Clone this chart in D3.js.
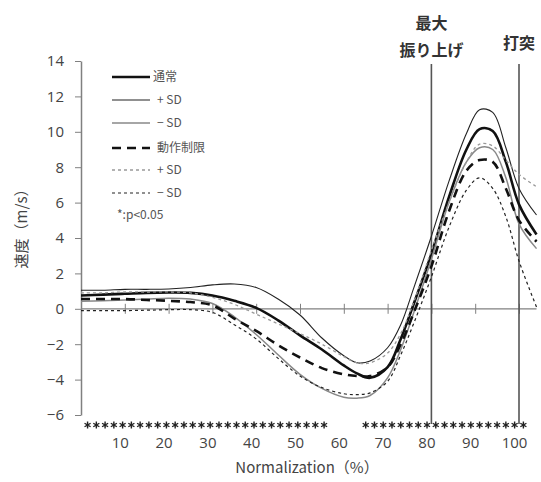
<!DOCTYPE html>
<html>
<head>
<meta charset="utf-8">
<script src="https://cdn.jsdelivr.net/npm/d3@7"></script>
<style>
  html, body { margin: 0; padding: 0; background: #fff; }
  svg { display: block; }
  text { font-family: "Noto Sans CJK JP", "Noto Sans", sans-serif; }
</style>
</head>
<body>
<svg id="chart" width="541" height="482"></svg>
<script>
// Normalised time (%) at which each velocity curve is sampled
const pct = [0, 5, 10, 15, 20, 25, 30, 35, 40, 45, 50, 55, 60, 63, 66, 70, 73, 76, 80, 84, 88, 91, 94, 97, 100, 104];

// 通常 (normal swing): mean and ±SD, m/s
const normalMean  = [0.75, 0.80, 0.85, 0.90, 0.92, 0.90, 0.75, 0.45, 0.05, -0.65, -1.50, -2.30, -3.20, -3.65, -3.90, -3.30, -1.70, 0.30, 3.10, 6.30, 9.00, 10.15, 10.05, 8.30, 5.90, 4.20];
const normalPlus  = [1.05, 1.05, 1.10, 1.10, 1.12, 1.20, 1.35, 1.40, 1.20, 0.55, -0.35, -1.65, -2.65, -3.05, -2.95, -2.20, -0.90, 1.20, 4.10, 7.20, 9.90, 11.25, 11.10, 9.10, 6.80, 5.30];
const normalMinus = [0.42, 0.45, 0.50, 0.55, 0.60, 0.55, 0.30, -0.45, -1.45, -2.60, -3.70, -4.50, -5.00, -5.05, -4.90, -3.90, -2.30, -0.20, 2.80, 6.00, 8.30, 9.10, 9.00, 7.40, 4.80, 3.40];

// 動作制限 (restricted motion): mean and ±SD, m/s
const restrictMean  = [0.55, 0.55, 0.55, 0.50, 0.45, 0.38, 0.20, -0.55, -1.25, -2.05, -2.75, -3.35, -3.70, -3.80, -3.80, -3.30, -2.00, -0.20, 2.40, 5.50, 7.80, 8.40, 8.30, 6.80, 5.00, 3.80];
const restrictPlus  = [0.90, 0.90, 0.95, 0.95, 0.95, 0.90, 0.65, 0.25, -0.30, -0.85, -1.40, -2.00, -2.70, -3.05, -3.05, -2.50, -1.40, 0.40, 3.30, 6.00, 8.30, 9.30, 9.20, 8.40, 7.60, 6.90];
const restrictMinus = [-0.10, -0.10, -0.10, -0.08, -0.05, -0.05, -0.20, -0.90, -1.70, -2.80, -3.80, -4.45, -4.80, -4.85, -4.75, -4.10, -2.60, -0.80, 1.80, 4.60, 6.70, 7.40, 6.80, 5.20, 2.70, 0.10];

// Points where the two conditions differ (p < 0.05)
const sigPoints = [1.5, 3.5, 5.5, 7.5, 9.5, 11.5, 13.5, 15.5, 17.5, 19.5, 21.5, 23.5, 25.5, 27.5,
                   29.5, 31.5, 33.5, 35.5, 37.5, 39.5, 41.5, 43.5, 45.5, 47.5, 49.5, 51.5, 53.5, 55.5,
                   65, 67, 69, 71, 73, 75, 77, 79, 81, 83, 85, 87, 89, 91, 93, 95, 97, 99, 101];

// Event markers
const events = [
  { at: 80,  lines: ["最大", "振り上げ"] },
  { at: 100, lines: ["打突"] }
];

const yTicks = [-6, -4, -2, 0, 2, 4, 6, 8, 10, 12, 14];
const xTicks = [10, 20, 30, 40, 50, 60, 70, 80, 90, 100];
const legendLabels = ["通常", "+ SD", "− SD", "動作制限", "+ SD", "− SD"];
const sigLabel = "*:p<0.05";

const series = [
  { values: normalMean,    stroke: "#111", width: 2.6, dash: null },
  { values: normalPlus,    stroke: "#222", width: 1.1, dash: null },
  { values: normalMinus,   stroke: "#888", width: 1.5, dash: null },
  { values: restrictMean,  stroke: "#111", width: 2.6, dash: "9,6" },
  { values: restrictPlus,  stroke: "#999", width: 1.3, dash: "3,3" },
  { values: restrictMinus, stroke: "#222", width: 1.2, dash: "3,3" }
];

const svg = d3.select("#chart");
const x = d3.scaleLinear().domain([0, 100]).range([81, 519]);
const y = d3.scaleLinear().domain([-6, 14]).range([415, 61]);
const axisColor = "#808080";
const textColor = "#444";

// y axis
const yAxis = svg.append("g")
  .attr("transform", `translate(${x(0)},0)`)
  .call(d3.axisLeft(y).tickValues(yTicks).tickSize(6).tickPadding(11).tickSizeOuter(0));
yAxis.select(".domain").attr("stroke", axisColor).attr("stroke-width", 1.5);
yAxis.selectAll(".tick line").attr("stroke", axisColor);
yAxis.selectAll(".tick text")
  .attr("fill", textColor).attr("font-size", 15)
  .style("font-family", "'Open Sans', 'Noto Sans', sans-serif");

// zero line with crossing ticks
svg.append("line")
  .attr("x1", x(0)).attr("x2", x(104))
  .attr("y1", y(0)).attr("y2", y(0))
  .attr("stroke", axisColor).attr("stroke-width", 1.2);
const zeroTicks = svg.append("g")
  .attr("transform", `translate(0,${y(0) - 5})`)
  .call(d3.axisBottom(x).tickValues(xTicks).tickSize(10).tickFormat(""));
zeroTicks.select(".domain").remove();
zeroTicks.selectAll(".tick line").attr("stroke", axisColor);

// x tick labels below the significance row
const xLabels = svg.append("g")
  .attr("transform", `translate(0,437)`)
  .call(d3.axisBottom(x).tickValues(xTicks).tickSize(0).tickPadding(0));
xLabels.select(".domain").remove();
xLabels.selectAll(".tick text")
  .attr("fill", textColor).attr("font-size", 15).attr("dx", -5)
  .style("font-family", "'Open Sans', 'Noto Sans', sans-serif");

// event lines and labels
events.forEach(ev => {
  svg.append("line")
    .attr("x1", x(ev.at)).attr("x2", x(ev.at))
    .attr("y1", 64).attr("y2", 424)
    .attr("stroke", "#555").attr("stroke-width", 1.6);
  const t = svg.append("text")
    .attr("text-anchor", "middle")
    .attr("fill", "#333").attr("font-size", 16).attr("font-weight", "bold");
  const baseY = ev.lines.length === 2 ? 29 : 49;
  ev.lines.forEach((s, i) => {
    t.append("tspan").attr("x", x(ev.at)).attr("y", baseY + i * 27).text(s);
  });
});

// curves
const line = d3.line()
  .x((d, i) => x(pct[i]))
  .y(d => y(d))
  .curve(d3.curveCatmullRom.alpha(0.5));

series.forEach(s => {
  svg.append("path")
    .datum(s.values)
    .attr("d", line)
    .attr("fill", "none")
    .attr("stroke", s.stroke)
    .attr("stroke-width", s.width)
    .attr("stroke-dasharray", s.dash);
});

// significance asterisks
svg.append("g").selectAll("path")
  .data(sigPoints)
  .join("path")
  .attr("transform", d => `translate(${x(d)},425)`)
  .attr("d", d3.symbol(d3.symbolAsterisk, 34))
  .attr("fill", "none")
  .attr("stroke", "#222")
  .attr("stroke-width", 1.4);

// legend
const legend = svg.append("g");
const legendY = [77, 100, 123, 148, 170, 193];
series.forEach((s, i) => {
  legend.append("line")
    .attr("x1", 112).attr("x2", 150)
    .attr("y1", legendY[i]).attr("y2", legendY[i])
    .attr("stroke", s.stroke)
    .attr("stroke-width", s.width)
    .attr("stroke-dasharray", s.dash);
  legend.append("text")
    .attr("x", i === 0 ? 153 : 157)
    .attr("y", legendY[i])
    .attr("dy", "0.35em")
    .attr("fill", "#555").attr("font-size", 12)
    .text(legendLabels[i]);
});
legend.append("text")
  .attr("x", 117).attr("y", 215).attr("dy", "0.35em")
  .attr("fill", "#555").attr("font-size", 12)
  .text(sigLabel);

// axis titles
svg.append("text")
  .attr("transform", "translate(22,225) rotate(-90)")
  .attr("text-anchor", "middle").attr("dy", "0.35em")
  .attr("fill", textColor).attr("font-size", 15)
  .text("速度（m/s）");
svg.append("text")
  .attr("x", 307).attr("y", 468)
  .attr("text-anchor", "middle").attr("dy", "0.35em")
  .attr("fill", textColor).attr("font-size", 15)
  .text("Normalization（%）");
</script>
</body>
</html>
